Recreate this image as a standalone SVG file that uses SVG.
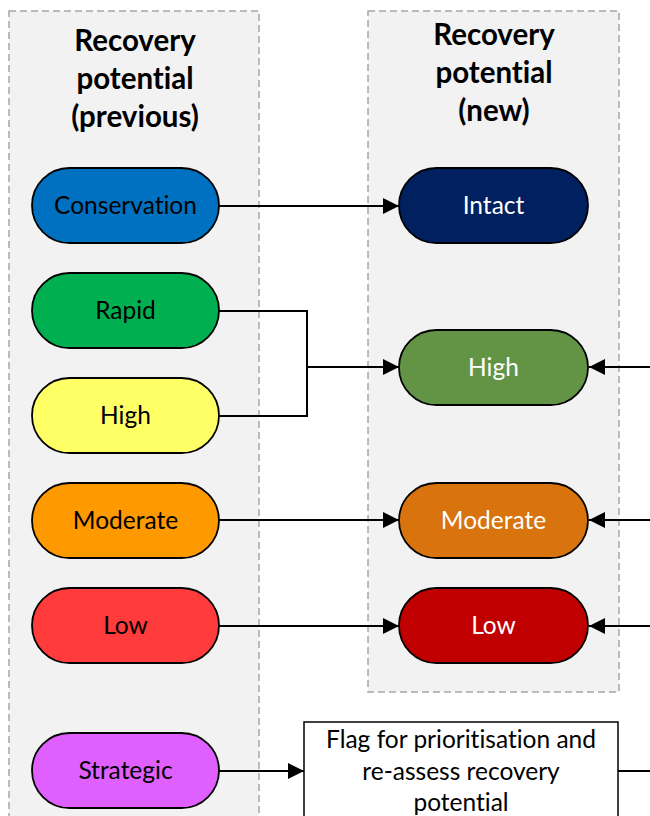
<svg xmlns="http://www.w3.org/2000/svg" width="650" height="816" viewBox="0 0 650 816">
<style>
.panel{fill:#F2F2F2;stroke:#A6A6A6;stroke-width:1.5;stroke-dasharray:7 4}
.pill{stroke:#000;stroke-width:1.8}
text{font-variant-ligatures:none}
.t{font-family:Lato,"Open Sans","Liberation Sans",sans-serif;font-size:24.5px;text-anchor:middle}
.h{font-family:Lato,"Open Sans","Liberation Sans",sans-serif;font-size:29.5px;font-weight:bold;text-anchor:middle;fill:#000}
.w{fill:#fff}
.k{fill:#000}
.c{fill:none;stroke:#000;stroke-width:2}
</style>
<defs>
<marker id="a" viewBox="0 0 14 14" refX="14" refY="7" markerWidth="16" markerHeight="16" markerUnits="userSpaceOnUse" orient="auto">
<path d="M0,0 L14,7 L0,14 z" fill="#000"/>
</marker>
</defs>
<g id="panel-previous">
<rect class="panel" x="9" y="11" width="250" height="820"/>
<text class="h" x="135" y="51">Recovery</text>
<text class="h" x="135" y="89">potential</text>
<text class="h" x="135" y="127">(previous)</text>
</g>
<g id="panel-new">
<rect class="panel" x="368" y="11" width="251" height="681"/>
<text class="h" x="494" y="45">Recovery</text>
<text class="h" x="494" y="83">potential</text>
<text class="h" x="494" y="121">(new)</text>
</g>
<g id="connectors">
<path class="c" d="M219,206 H399" marker-end="url(#a)"/>
<path class="c" d="M219,311 H307 V416 H219"/>
<path class="c" d="M307,367 H399" marker-end="url(#a)"/>
<path class="c" d="M219,520 H399" marker-end="url(#a)"/>
<path class="c" d="M219,626 H399" marker-end="url(#a)"/>
<path class="c" d="M219,771 H304" marker-end="url(#a)"/>
<path class="c" d="M618,771 H652 V367" stroke-width="2.5"/>
<path class="c" d="M652,367 H589" marker-end="url(#a)"/>
<path class="c" d="M652,520 H589" marker-end="url(#a)"/>
<path class="c" d="M652,626 H589" marker-end="url(#a)"/>
</g>
<g id="prev-conservation">
<rect class="pill" x="32" y="168" width="187" height="75" rx="37.5" fill="#0070C0"/>
<text class="t k" x="125.5" y="214">Conservation</text>
</g>
<g id="prev-rapid">
<rect class="pill" x="32" y="273" width="187" height="75" rx="37.5" fill="#00B050"/>
<text class="t k" x="125.5" y="319">Rapid</text>
</g>
<g id="prev-high">
<rect class="pill" x="32" y="378" width="187" height="75" rx="37.5" fill="#FFFF66"/>
<text class="t k" x="125.5" y="424">High</text>
</g>
<g id="prev-moderate">
<rect class="pill" x="32" y="483" width="187" height="75" rx="37.5" fill="#FF9900"/>
<text class="t k" x="125.5" y="529">Moderate</text>
</g>
<g id="prev-low">
<rect class="pill" x="32" y="588" width="187" height="75" rx="37.5" fill="#FF3B3B"/>
<text class="t k" x="125.5" y="634">Low</text>
</g>
<g id="prev-strategic">
<rect class="pill" x="32" y="733" width="187" height="75" rx="37.5" fill="#E060FF"/>
<text class="t k" x="125.5" y="779">Strategic</text>
</g>
<g id="new-intact">
<rect class="pill" x="399" y="168" width="189" height="75" rx="37.5" fill="#002060" stroke="#002060"/>
<text class="t w" x="493.5" y="214">Intact</text>
</g>
<g id="new-high">
<rect class="pill" x="399" y="330" width="189" height="75" rx="37.5" fill="#639446"/>
<text class="t w" x="493.5" y="376">High</text>
</g>
<g id="new-moderate">
<rect class="pill" x="399" y="483" width="189" height="75" rx="37.5" fill="#D9730D"/>
<text class="t w" x="493.5" y="529">Moderate</text>
</g>
<g id="new-low">
<rect class="pill" x="399" y="588" width="189" height="75" rx="37.5" fill="#C00000"/>
<text class="t w" x="493.5" y="634">Low</text>
</g>
<g id="flag">
<rect x="304" y="722" width="314" height="110" fill="#fff" stroke="#000" stroke-width="1.5"/>
<text class="t k" x="461" y="748">Flag for prioritisation and</text>
<text class="t k" x="461" y="780">re-assess recovery</text>
<text class="t k" x="461" y="811">potential</text>
</g>
</svg>
